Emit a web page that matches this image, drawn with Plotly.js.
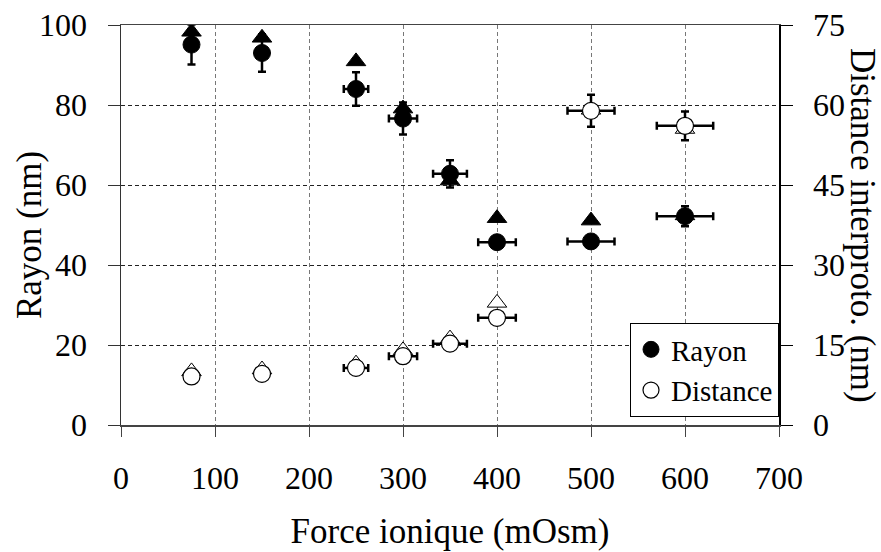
<!DOCTYPE html>
<html>
<head>
<meta charset="utf-8">
<script src="https://cdn.plot.ly/plotly-3.0.1.min.js"></script>
<style>html,body{margin:0;padding:0;background:#fff;}#chart{width:881px;height:552px;}</style>
</head>
<body>
<div id="chart"></div>
<script>
// Data
const force = [75, 150, 250, 300, 350, 400, 500, 600];
const rayon = [95.1, 93.0, 84.0, 76.6, 62.8, 45.7, 45.9, 52.2];
const rayonErrY = [5, 4.7, 4.2, 4, 3.4, 1.5, 1.5, 2.5];
const rayonErrX = [0, 0, 13, 15, 18, 20, 25, 30];
const rayonTri = [98.3, 96.8, 90.9, 79.1, 61.1, 51.7, 51.1, 52.4];
const distance = [9.1, 9.6, 10.7, 12.9, 15.25, 20.1, 58.9, 56.1];
const distanceErrY = [0.3, 0.3, 0.5, 0.5, 0.5, 0.5, 3, 2.7];
const distanceErrX = [0, 0, 13, 15, 18, 20, 25, 30];
const distanceTri = [10.05, 10.4, 11.5, 14.0, 16.2, 22.9, 59.1, 55.5];
const leftTicks = [0, 20, 40, 60, 80, 100];
const rightTicks = [0, 15, 30, 45, 60, 75];
const xTicks = [0, 100, 200, 300, 400, 500, 600, 700];

const FONT = "'Liberation Serif', 'Times New Roman', serif";
const errStyle = {color: '#000', thickness: 2.5, width: 4};

const traces = [
  {x: force, y: rayonTri, type: 'scatter', mode: 'markers', showlegend: false, hoverinfo: 'skip',
   marker: {symbol: 'triangle-up', size: 17, color: '#000', line: {color: '#000', width: 1}}},
  {x: force, y: distanceTri, yaxis: 'y2', type: 'scatter', mode: 'markers', showlegend: false, hoverinfo: 'skip',
   marker: {symbol: 'triangle-up', size: 17, color: '#fff', line: {color: '#000', width: 1}}},
  {x: force, y: rayon, name: 'Rayon', type: 'scatter', mode: 'markers',
   marker: {symbol: 'circle', size: 17, color: '#000', line: {color: '#000', width: 1}},
   error_y: Object.assign({type: 'data', array: rayonErrY, visible: true}, errStyle),
   error_x: Object.assign({type: 'data', array: rayonErrX, visible: true}, errStyle)},
  {x: force, y: distance, name: 'Distance', yaxis: 'y2', type: 'scatter', mode: 'markers',
   marker: {symbol: 'circle', size: 17, color: '#fff', line: {color: '#000', width: 1.2}},
   error_y: Object.assign({type: 'data', array: distanceErrY, visible: true}, errStyle),
   error_x: Object.assign({type: 'data', array: distanceErrX, visible: true}, errStyle)}
];

const layout = {
  width: 881, height: 552,
  margin: {l: 121, r: 102, t: 25, b: 127},
  paper_bgcolor: '#fff', plot_bgcolor: '#fff',
  font: {family: FONT, size: 32, color: '#000'},
  showlegend: true,
  legend: {x: 1, xanchor: 'right', y: 0.02, yanchor: 'bottom',
           bgcolor: '#fff', bordercolor: '#000', borderwidth: 1,
           font: {family: FONT, size: 29, color: '#000'},
           itemsizing: 'trace', itemwidth: 30, tracegroupgap: 0},
  xaxis: {
    range: [0, 700], tickvals: xTicks, ticktext: xTicks.map(String),
    showline: true, linecolor: '#444', linewidth: 1.5, mirror: true,
    ticks: 'outside', ticklen: 10, tickcolor: '#444', tickwidth: 1,
    showgrid: true, gridcolor: '#777', gridwidth: 1, griddash: '4px,3px',
    zeroline: false, ticklabelstandoff: 14,
    tickfont: {family: FONT, size: 32, color: '#000'},
    title: {text: 'Force ionique (mOsm)', font: {family: FONT, size: 35, color: '#000'}, standoff: 23}
  },
  yaxis: {
    range: [0, 100], tickvals: leftTicks, ticktext: leftTicks.map(String),
    showline: true, linecolor: '#333', linewidth: 1.5,
    ticks: 'outside', ticklen: 12, tickcolor: '#333', tickwidth: 1,
    showgrid: true, gridcolor: '#222', gridwidth: 1, griddash: '4px,3px',
    zeroline: false, ticklabelstandoff: 14,
    tickfont: {family: FONT, size: 32, color: '#000'}
  },
  yaxis2: {
    range: [0, 75], tickvals: rightTicks, ticktext: rightTicks.map(String),
    overlaying: 'y', side: 'right', anchor: 'x',
    showline: true, linecolor: '#000', linewidth: 1.5,
    ticks: 'outside', ticklen: 12, tickcolor: '#000', tickwidth: 1,
    showgrid: false, zeroline: false, ticklabelstandoff: 14,
    tickfont: {family: FONT, size: 32, color: '#000'}
  },
  annotations: [{
    text: 'Rayon (nm)', xref: 'paper', yref: 'paper',
    x: -0.1398, y: 0.475, xanchor: 'center', yanchor: 'middle',
    textangle: -90, showarrow: false,
    font: {family: FONT, size: 35, color: '#000'}
  }, {
    text: 'Distance interproto. (nm)', xref: 'paper', yref: 'paper',
    x: 1.1277, y: 0.5, xanchor: 'center', yanchor: 'middle',
    textangle: 90, showarrow: false,
    font: {family: FONT, size: 35, color: '#000'}
  }]
};

Plotly.newPlot('chart', traces, layout, {displayModeBar: false, staticPlot: true});
</script>
</body>
</html>
